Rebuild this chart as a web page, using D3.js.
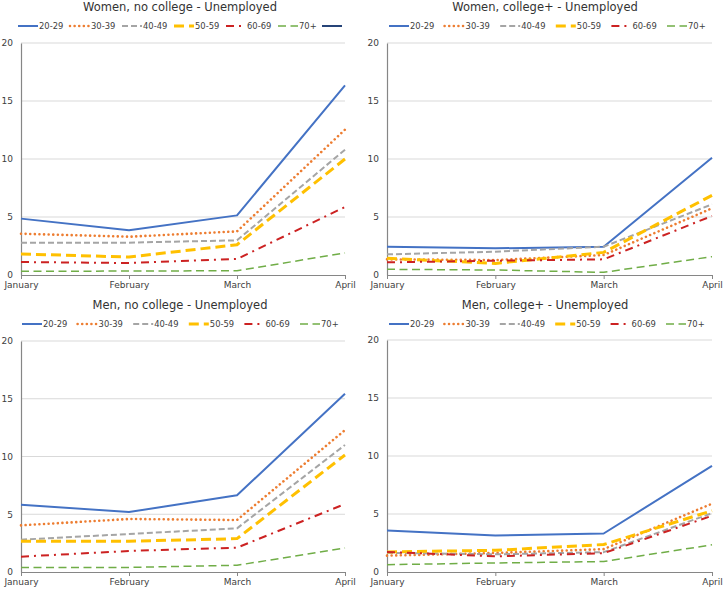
<!DOCTYPE html>
<html><head><meta charset="utf-8">
<script src="https://cdn.jsdelivr.net/npm/d3@7"></script>
<style>
html,body{margin:0;padding:0;background:#fff;}
svg{display:block;font-family:"DejaVu Sans",Verdana,sans-serif;}
</style></head>
<body>
<svg id="chart" width="723" height="592"></svg>
<script>
const months = ["January", "February", "March", "April"];
const ageGroups = ["20-29", "30-39", "40-49", "50-59", "60-69", "70+"];
const yTicks = [0, 5, 10, 15, 20];
const panelTitles = [
  "Women, no college - Unemployed",
  "Women, college+ - Unemployed",
  "Men, no college - Unemployed",
  "Men, college+ - Unemployed"
];
// rows = age groups, columns = months
const womenNoCollege = [
  [4.86, 3.85, 5.14, 16.35],
  [3.56, 3.30, 3.76, 12.53],
  [2.79, 2.79, 2.99, 10.8],
  [1.81, 1.55, 2.61, 10.0],
  [1.12, 1.03, 1.38, 5.86],
  [0.32, 0.34, 0.37, 1.9]
];
const womenCollege = [
  [2.44, 2.30, 2.44, 10.1],
  [1.35, 1.29, 1.72, 5.75],
  [1.78, 2.01, 2.44, 6.09],
  [1.44, 1.00, 1.95, 6.87],
  [1.09, 1.23, 1.35, 5.09],
  [0.49, 0.43, 0.23, 1.58]
];
const menNoCollege = [
  [5.83, 5.19, 6.64, 15.44],
  [4.04, 4.59, 4.50, 12.29],
  [2.80, 3.29, 3.78, 11.0],
  [2.66, 2.66, 2.89, 10.13],
  [1.33, 1.82, 2.11, 5.89],
  [0.38, 0.40, 0.58, 2.08]
];
const menCollege = [
  [3.57, 3.14, 3.32, 9.15],
  [1.41, 1.64, 1.97, 5.89],
  [1.65, 1.52, 1.71, 5.07],
  [1.73, 1.87, 2.37, 5.28],
  [1.73, 1.35, 1.62, 4.85],
  [0.63, 0.78, 0.90, 2.34]
];
const panelData = [womenNoCollege, womenCollege, menNoCollege, menCollege];
// first panel legend also lists an extra unnamed series (no data shown)
const extraLegendPanel = 0;

// styles
const styles = [
  {color: "#4472C4", width: 2, dash: null, cap: "butt"},
  {color: "#ED7D31", width: 2.6, dash: "0.01 4.6", cap: "round"},
  {color: "#A5A5A5", width: 2, dash: "6 3", cap: "butt"},
  {color: "#FFC000", width: 3, dash: "10 5", cap: "butt"},
  {color: "#CC2222", width: 2, dash: "8 5 2 5", cap: "butt"},
  {color: "#70AD47", width: 1.5, dash: "8 4.5", cap: "butt"}
];
const extraStyle = {color: "#264478", width: 2, dash: null, cap: "butt"};

const layout = [
  {x0: 21, x1: 345, yT: 43, yB: 275, tx: 180, ty: 11, ly: 26, lx: 18, lstep: 52, extraX: 322},
  {x0: 387, x1: 712, yT: 43, yB: 275, tx: 545, ty: 11, ly: 26, lx: 389, lstep: 55.6},
  {x0: 21, x1: 345, yT: 341, yB: 572, tx: 180, ty: 309, ly: 324, lx: 22, lstep: 55.6},
  {x0: 387, x1: 712, yT: 340, yB: 572, tx: 545, ty: 309, ly: 324, lx: 389, lstep: 55.4}
];

const svg = d3.select("#chart");

panelData.forEach((data, p) => {
  const L = layout[p];
  const g = svg.append("g");
  const x = d3.scalePoint().domain(months).range([L.x0, L.x1]);
  const y = d3.scaleLinear().domain([0, 20]).range([L.yB, L.yT]);

  // gridlines
  g.append("g").selectAll("line").data(yTicks.filter(t => t > 0)).join("line")
    .attr("x1", L.x0).attr("x2", L.x1)
    .attr("y1", d => y(d)).attr("y2", d => y(d))
    .attr("stroke", "#D9D9D9").attr("stroke-width", 1);

  // y axis
  const ya = g.append("g").attr("transform", `translate(${L.x0},0)`)
    .call(d3.axisLeft(y).tickValues(yTicks).tickSize(0).tickPadding(8));
  ya.select(".domain").attr("stroke", "#868686").attr("stroke-width", 1.2);
  ya.selectAll("text").attr("font-size", 9).attr("fill", "#404040")
    .attr("font-family", "DejaVu Sans, Verdana, sans-serif");

  // x axis
  const xa = g.append("g").attr("transform", `translate(0,${L.yB})`)
    .call(d3.axisBottom(x).tickSize(4).tickSizeOuter(0).tickPadding(3));
  xa.select(".domain").attr("stroke", "#868686").attr("stroke-width", 1.2);
  xa.selectAll(".tick line").attr("stroke", "#868686");
  xa.selectAll("text").attr("font-size", 9).attr("fill", "#404040")
    .attr("font-family", "DejaVu Sans, Verdana, sans-serif");

  // lines
  const line = d3.line().x((d, i) => x(months[i])).y(d => y(d));
  data.forEach((series, s) => {
    const st = styles[s];
    g.append("path").datum(series)
      .attr("d", line)
      .attr("fill", "none")
      .attr("stroke", st.color)
      .attr("stroke-width", st.width)
      .attr("stroke-linecap", st.cap)
      .attr("stroke-linejoin", "round")
      .attr("stroke-dasharray", st.dash);
  });

  // title
  g.append("text").attr("x", L.tx).attr("y", L.ty)
    .attr("text-anchor", "middle").attr("font-size", 11.5).attr("fill", "#333")
    .text(panelTitles[p]);

  // legend
  const items = ageGroups.map((a, i) => ({label: a, st: styles[i], lx: L.lx + i * L.lstep}));
  if (p === extraLegendPanel) items.push({label: "", st: extraStyle, lx: L.extraX});
  items.forEach(it => {
    g.append("line").attr("x1", it.lx).attr("x2", it.lx + 20)
      .attr("y1", L.ly).attr("y2", L.ly)
      .attr("stroke", it.st.color).attr("stroke-width", it.st.width)
      .attr("stroke-linecap", it.st.cap)
      .attr("stroke-dasharray", it.st.dash);
    if (it.label) {
      g.append("text").attr("x", it.lx + 21).attr("y", L.ly + 3)
        .attr("font-size", 8.4).attr("fill", "#404040").text(it.label);
    }
  });
});
</script>
</body></html>
